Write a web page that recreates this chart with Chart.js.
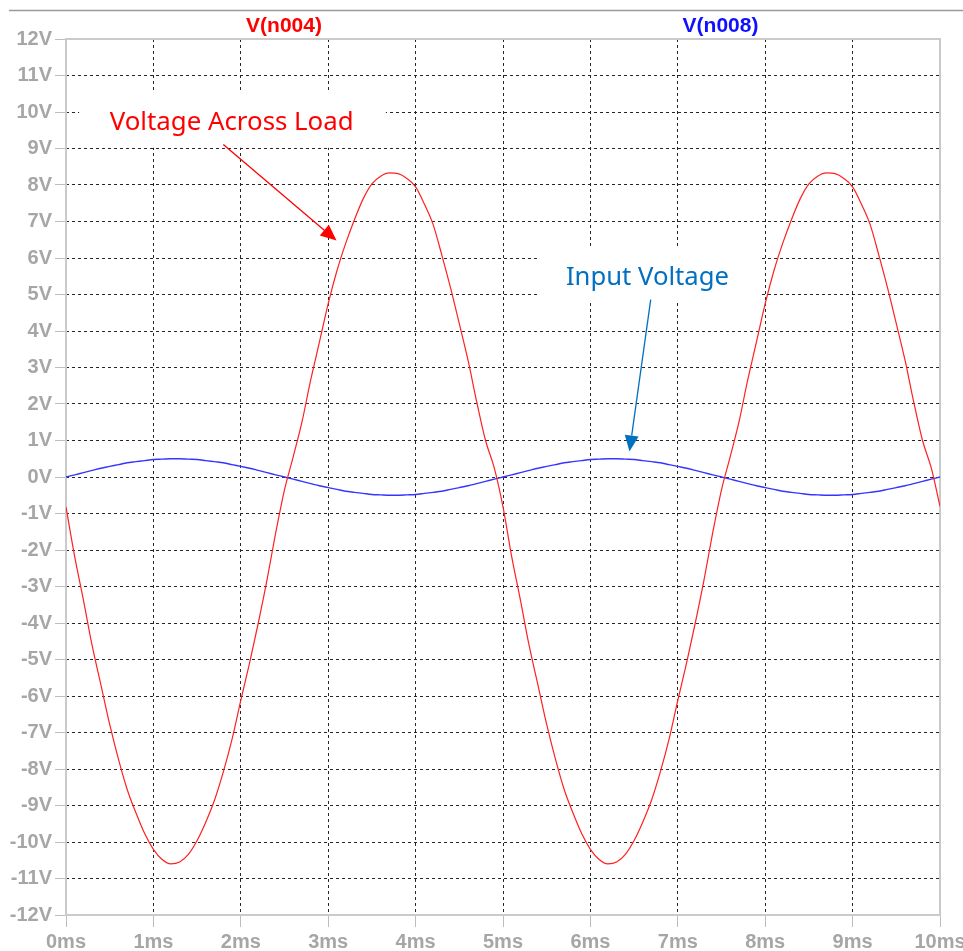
<!DOCTYPE html>
<html lang="en">
<head>
<meta charset="UTF-8">
<title>V(n004) / V(n008)</title>
<script src="https://cdn.jsdelivr.net/npm/chart.js@4"></script>
<style>
  body { margin: 0; background: #ffffff; }
  canvas { display: block; }
</style>
</head>
<body>
<canvas id="plot" width="963" height="951"></canvas>
<script>
// time axis in ms (0.1 ms steps)
const timeMs = [
  0.0, 0.1, 0.2, 0.3, 0.4, 0.5, 0.6, 0.7, 0.8, 0.9,
  1.0, 1.1, 1.2, 1.3, 1.4, 1.5, 1.6, 1.7, 1.8, 1.9,
  2.0, 2.1, 2.2, 2.3, 2.4, 2.5, 2.6, 2.7, 2.8, 2.9,
  3.0, 3.1, 3.2, 3.3, 3.4, 3.5, 3.6, 3.7, 3.8, 3.9,
  4.0, 4.1, 4.2, 4.3, 4.4, 4.5, 4.6, 4.7, 4.8, 4.9,
  5.0, 5.1, 5.2, 5.3, 5.4, 5.5, 5.6, 5.7, 5.8, 5.9,
  6.0, 6.1, 6.2, 6.3, 6.4, 6.5, 6.6, 6.7, 6.8, 6.9,
  7.0, 7.1, 7.2, 7.3, 7.4, 7.5, 7.6, 7.7, 7.8, 7.9,
  8.0, 8.1, 8.2, 8.3, 8.4, 8.5, 8.6, 8.7, 8.8, 8.9,
  9.0, 9.1, 9.2, 9.3, 9.4, 9.5, 9.6, 9.7, 9.8, 9.9,
  10.0
];

// V(n004) - voltage across load (V)
const vLoad = [
  -0.82, -2.19, -3.38, -4.63, -5.70, -6.78, -7.73, -8.56, -9.20, -9.77,
  -10.20, -10.48, -10.60, -10.55, -10.34, -9.96, -9.45, -8.85, -8.08, -7.18,
  -6.12, -5.10, -4.00, -2.82, -1.52, -0.35, 0.56, 1.51, 2.66, 3.70,
  4.75, 5.65, 6.40, 7.05, 7.62, 8.03, 8.24, 8.33, 8.31, 8.18,
  7.95, 7.48, 6.92, 6.08, 5.18, 4.20, 3.20, 2.05, 1.00, 0.25,
  -0.82, -2.19, -3.38, -4.63, -5.70, -6.78, -7.73, -8.56, -9.20, -9.77,
  -10.20, -10.48, -10.60, -10.55, -10.34, -9.96, -9.45, -8.85, -8.08, -7.18,
  -6.12, -5.10, -4.00, -2.82, -1.52, -0.35, 0.56, 1.51, 2.66, 3.70,
  4.75, 5.65, 6.40, 7.05, 7.62, 8.03, 8.24, 8.33, 8.31, 8.18,
  7.95, 7.48, 6.92, 6.08, 5.18, 4.20, 3.20, 2.05, 1.00, 0.25,
  -0.80
];

// V(n008) - input voltage (V)
const vInput = [
  0.00, 0.06, 0.12, 0.18, 0.24, 0.29, 0.34, 0.39, 0.42, 0.45,
  0.48, 0.49, 0.50, 0.50, 0.49, 0.48, 0.45, 0.42, 0.39, 0.34,
  0.29, 0.24, 0.18, 0.12, 0.06, 0.00, -0.06, -0.12, -0.18, -0.24,
  -0.29, -0.34, -0.39, -0.42, -0.45, -0.48, -0.49, -0.50, -0.50, -0.49,
  -0.48, -0.45, -0.42, -0.39, -0.34, -0.29, -0.24, -0.18, -0.12, -0.06,
  0.00, 0.06, 0.12, 0.18, 0.24, 0.29, 0.34, 0.39, 0.42, 0.45,
  0.48, 0.49, 0.50, 0.50, 0.49, 0.48, 0.45, 0.42, 0.39, 0.34,
  0.29, 0.24, 0.18, 0.12, 0.06, 0.00, -0.06, -0.12, -0.18, -0.24,
  -0.29, -0.34, -0.39, -0.42, -0.45, -0.48, -0.49, -0.50, -0.50, -0.49,
  -0.48, -0.45, -0.42, -0.39, -0.34, -0.29, -0.24, -0.18, -0.12, -0.06,
  0.00
];

const traceNames = ['V(n004)', 'V(n008)'];
const xRange = [0, 10];
const yRange = [-12, 12];

// annotation text with arrows, placed in data units (ms, V)
const notes = [
  { text: 'Voltage Across Load', color: '#ff0000', width: 244,
    textAt: [0.50, 9.51], box: [0.15, 10.53, 3.66, 9.02],
    from: [1.80, 9.11], to: [3.095, 6.48] },
  { text: 'Input Voltage', color: '#0070c0', width: 163,
    textAt: [5.72, 5.25], box: [5.39, 6.29, 7.93, 4.78],
    from: [6.69, 4.86], to: [6.447, 0.70] }
];

const tickFont = { family: '"Liberation Sans", Arial, sans-serif', size: 20, weight: 'bold' };
const tickGrey = '#a6a6a6';

function drawArrow(ctx, x1, y1, x2, y2, len, half) {
  const ang = Math.atan2(y2 - y1, x2 - x1);
  const bx = x2 - len * Math.cos(ang);
  const by = y2 - len * Math.sin(ang);
  ctx.beginPath();
  ctx.moveTo(x1, y1);
  ctx.lineTo(bx, by);
  ctx.stroke();
  ctx.beginPath();
  ctx.moveTo(x2, y2);
  ctx.lineTo(bx + half * Math.sin(ang), by - half * Math.cos(ang));
  ctx.lineTo(bx - half * Math.sin(ang), by + half * Math.cos(ang));
  ctx.closePath();
  ctx.fill();
}

const decor = {
  id: 'decor',
  beforeDatasetsDraw(chart) {
    const ctx = chart.ctx;
    const a = chart.chartArea;
    const xs = chart.scales.x, ys = chart.scales.y;
    ctx.save();
    // plot frame
    ctx.strokeStyle = '#cacaca';
    ctx.lineWidth = 2;
    ctx.strokeRect(a.left, a.top, a.right - a.left, a.bottom - a.top);

    notes.forEach(n => {
      const bx1 = xs.getPixelForValue(n.box[0]), by1 = ys.getPixelForValue(n.box[1]);
      const bx2 = xs.getPixelForValue(n.box[2]), by2 = ys.getPixelForValue(n.box[3]);
      ctx.fillStyle = '#ffffff';
      ctx.fillRect(bx1, by1, bx2 - bx1, by2 - by1);

      // fit the font size to the width seen in the reference
      ctx.font = '100px "Noto Sans", "Open Sans", sans-serif';
      const size = 100 * n.width / ctx.measureText(n.text).width;
      ctx.font = size.toFixed(2) + 'px "Noto Sans", "Open Sans", sans-serif';
      ctx.fillStyle = n.color;
      ctx.textAlign = 'left';
      ctx.textBaseline = 'alphabetic';
      ctx.fillText(n.text, xs.getPixelForValue(n.textAt[0]), ys.getPixelForValue(n.textAt[1]));

      ctx.strokeStyle = n.color;
      ctx.lineWidth = 1.3;
      drawArrow(ctx,
        xs.getPixelForValue(n.from[0]), ys.getPixelForValue(n.from[1]),
        xs.getPixelForValue(n.to[0]), ys.getPixelForValue(n.to[1]), 16, 7);
    });
    ctx.restore();
  },
  afterDraw(chart) {
    const ctx = chart.ctx;
    ctx.save();
    // line along the top of the window
    ctx.strokeStyle = '#9a9a9a';
    ctx.lineWidth = 1.5;
    ctx.beginPath();
    ctx.moveTo(9, 10.5);
    ctx.lineTo(963, 10.5);
    ctx.stroke();

    // trace names
    ctx.font = 'bold 21px "Liberation Sans", Arial, sans-serif';
    ctx.textAlign = 'center';
    ctx.textBaseline = 'alphabetic';
    ctx.fillStyle = '#ff0000';
    ctx.fillText(traceNames[0], 284, 31.5);
    ctx.fillStyle = '#1010ff';
    ctx.fillText(traceNames[1], 720.5, 31.5);
    ctx.restore();
  }
};

const edgeClear = (lo, hi) => c =>
  (c.tick && (c.tick.value === lo || c.tick.value === hi)) ? 'rgba(0,0,0,0)' : '#262626';

new Chart(document.getElementById('plot'), {
  type: 'line',
  data: {
    datasets: [
      {
        label: traceNames[0],
        data: timeMs.map((t, i) => ({ x: t, y: vLoad[i] })),
        borderColor: '#ff2020',
        borderWidth: 1.2,
        pointRadius: 0,
        cubicInterpolationMode: 'monotone',
        fill: false
      },
      {
        label: traceNames[1],
        data: timeMs.map((t, i) => ({ x: t, y: vInput[i] })),
        borderColor: '#3535ff',
        borderWidth: 1.4,
        pointRadius: 0,
        cubicInterpolationMode: 'monotone',
        fill: false
      }
    ]
  },
  options: {
    responsive: false,
    animation: false,
    layout: { padding: { top: 39, right: 23, left: 0, bottom: 0 } },
    plugins: { legend: { display: false }, tooltip: { enabled: false } },
    scales: {
      x: {
        type: 'linear',
        min: xRange[0],
        max: xRange[1],
        afterFit(s) { s.height = 36; s.paddingLeft = 0; s.paddingRight = 0; },
        ticks: {
          stepSize: 1,
          autoSkip: false,
          maxRotation: 0,
          padding: 3,
          color: tickGrey,
          font: tickFont,
          callback: v => v + 'ms'
        },
        grid: {
          color: edgeClear(xRange[0], xRange[1]),
          lineWidth: 1,
          tickColor: '#bdbdbd',
          tickLength: 12
        },
        border: { display: false, dash: [3, 3] }
      },
      y: {
        type: 'linear',
        min: yRange[0],
        max: yRange[1],
        afterFit(s) { s.width = 66; s.paddingTop = 0; s.paddingBottom = 0; },
        ticks: {
          stepSize: 1,
          autoSkip: false,
          padding: 3,
          color: tickGrey,
          font: tickFont,
          callback: v => v + 'V'
        },
        grid: {
          color: edgeClear(yRange[0], yRange[1]),
          lineWidth: 1,
          tickColor: '#bdbdbd',
          tickLength: 11
        },
        border: { display: false, dash: [3, 3] }
      }
    }
  },
  plugins: [decor]
});
</script>
</body>
</html>
